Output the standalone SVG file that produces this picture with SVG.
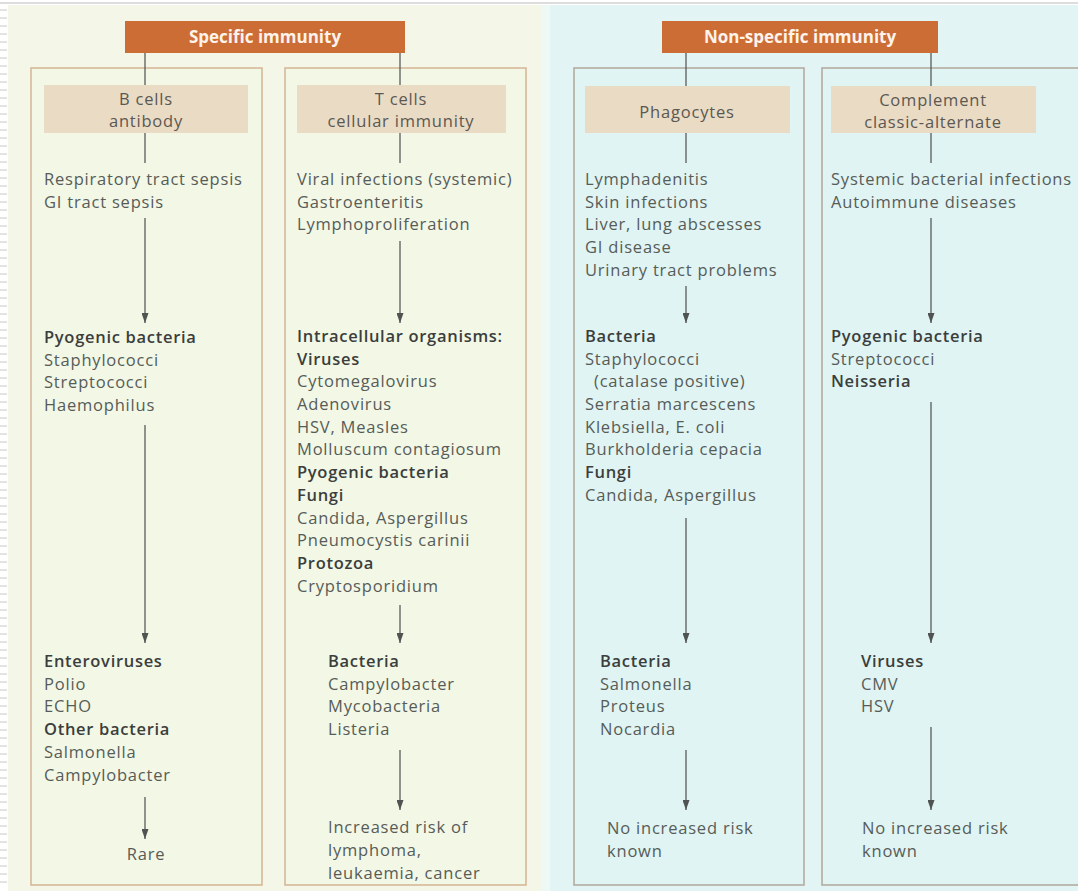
<svg xmlns="http://www.w3.org/2000/svg" width="1078" height="891" viewBox="0 0 1078 891">
<defs>
<style>
.t{font-family:"Open Sans","Noto Sans","Liberation Sans",sans-serif;font-size:16.5px;letter-spacing:0.8px;fill:#575c58}
.b{font-family:"Open Sans","Noto Sans","Liberation Sans",sans-serif;font-size:16.5px;letter-spacing:0.7px;font-weight:600;fill:#3b3e3c}
.hd{font-family:"Open Sans","Noto Sans","Liberation Sans",sans-serif;font-size:17px;font-weight:bold;fill:#fdf3ea}
.sh{font-family:"Open Sans","Noto Sans","Liberation Sans",sans-serif;font-size:16.5px;letter-spacing:0.8px;fill:#5a5852}
.hbox{fill:#cd6d36}
.sbox{fill:#eadbc5}
.lbox{fill:#f2f7e6;stroke:#d6b898;stroke-width:1.6}
.rbox{fill:#e0f4f3;stroke:#b4aca0;stroke-width:1.6}
.ln{stroke:#585c5a;stroke-width:1.3;fill:none}
.ar{stroke:#585c5a;stroke-width:1.3;fill:none;marker-end:url(#ah)}
</style>
<marker id="ah" viewBox="0 0 10 7" refX="10" refY="3.5" markerWidth="10" markerHeight="7" markerUnits="userSpaceOnUse" orient="auto">
<path d="M0,0 L10,3.5 L0,7 z" fill="#4f5351"/>
</marker>
</defs>

<!-- backgrounds -->
<rect x="0" y="0" width="1078" height="891" fill="#ffffff"/>
<rect x="8" y="5" width="534" height="886" fill="#f4f7e7"/>
<rect x="542" y="5" width="8" height="886" fill="#eef8f5"/>
<rect x="550" y="5" width="528" height="886" fill="#e2f4f3"/>
<line x1="0" y1="3" x2="1078" y2="3" stroke="#d2d2d2" stroke-width="1.5"/>
<g stroke="#c8c8c8" stroke-width="1">
<path d="M0,10h7M0,18h7M0,26h7M0,34h7M0,42h7M0,50h7M0,58h7M0,66h7M0,74h7M0,82h7M0,90h7M0,98h7M0,106h7M0,114h7M0,122h7M0,130h7M0,138h7M0,146h7M0,154h7M0,162h7M0,170h7M0,178h7M0,186h7M0,194h7M0,202h7M0,210h7M0,218h7M0,226h7M0,234h7M0,242h7M0,250h7M0,258h7M0,266h7M0,274h7M0,282h7M0,290h7M0,298h7M0,306h7M0,314h7M0,322h7M0,330h7M0,338h7M0,346h7M0,354h7M0,362h7M0,370h7M0,378h7M0,386h7M0,394h7M0,402h7M0,410h7M0,418h7M0,426h7M0,434h7M0,442h7M0,450h7M0,458h7M0,466h7M0,474h7M0,482h7M0,490h7M0,498h7M0,506h7M0,514h7M0,522h7M0,530h7M0,538h7M0,546h7M0,554h7M0,562h7M0,570h7M0,578h7M0,586h7M0,594h7M0,602h7M0,610h7M0,618h7M0,626h7M0,634h7M0,642h7M0,650h7M0,658h7M0,666h7M0,674h7M0,682h7M0,690h7M0,698h7M0,706h7M0,714h7M0,722h7M0,730h7M0,738h7M0,746h7M0,754h7M0,762h7M0,770h7M0,778h7M0,786h7M0,794h7M0,802h7M0,810h7M0,818h7M0,826h7M0,834h7M0,842h7M0,850h7M0,858h7M0,866h7M0,874h7M0,882h7"/>
</g>

<!-- column boxes -->
<g id="box-b"><rect class="lbox" x="31" y="68" width="231" height="817"/></g>
<g id="box-t"><rect class="lbox" x="285" y="68" width="241" height="817"/></g>
<g id="box-p"><rect class="rbox" x="574" y="68" width="230" height="817"/></g>
<g id="box-c"><rect class="rbox" x="822" y="68" width="262" height="817"/></g>

<!-- connectors -->
<g id="connectors">
<line class="ln" x1="145" y1="53" x2="145" y2="85"/>
<line class="ln" x1="400" y1="53" x2="400" y2="85"/>
<line class="ln" x1="686" y1="53" x2="686" y2="86"/>
<line class="ln" x1="931" y1="53" x2="931" y2="86"/>
<line class="ln" x1="145" y1="133" x2="145" y2="163"/>
<line class="ln" x1="400" y1="133" x2="400" y2="163"/>
<line class="ln" x1="686" y1="133" x2="686" y2="163"/>
<line class="ln" x1="931" y1="133" x2="931" y2="163"/>
<line class="ar" x1="145" y1="218" x2="145" y2="323"/>
<line class="ar" x1="145" y1="425" x2="145" y2="643"/>
<line class="ar" x1="145" y1="797" x2="145" y2="839"/>
<line class="ar" x1="400" y1="241" x2="400" y2="323"/>
<line class="ar" x1="400" y1="605" x2="400" y2="643"/>
<line class="ar" x1="400" y1="750" x2="400" y2="810"/>
<line class="ar" x1="686" y1="286" x2="686" y2="323"/>
<line class="ar" x1="686" y1="518" x2="686" y2="643"/>
<line class="ar" x1="686" y1="750" x2="686" y2="810"/>
<line class="ar" x1="931" y1="218" x2="931" y2="323"/>
<line class="ar" x1="931" y1="402" x2="931" y2="643"/>
<line class="ar" x1="931" y1="727" x2="931" y2="810"/>
</g>

<!-- headers -->
<g id="hdr-specific">
<rect class="hbox" x="125" y="21" width="280" height="32"/>
<text class="hd" x="265" y="43" text-anchor="middle">Specific immunity</text>
</g>
<g id="hdr-nonspecific">
<rect class="hbox" x="662" y="21" width="276" height="32"/>
<text class="hd" x="800" y="43" text-anchor="middle">Non-specific immunity</text>
</g>

<!-- sub headers -->
<g id="sub-b">
<rect class="sbox" x="44" y="85" width="204" height="48"/>
<text class="sh" x="146" y="105" text-anchor="middle">B cells</text>
<text class="sh" x="146" y="127" text-anchor="middle">antibody</text>
</g>
<g id="sub-t">
<rect class="sbox" x="297" y="85" width="209" height="48"/>
<text class="sh" x="401" y="105" text-anchor="middle">T cells</text>
<text class="sh" x="401" y="127" text-anchor="middle">cellular immunity</text>
</g>
<g id="sub-p">
<rect class="sbox" x="585" y="86" width="205" height="47"/>
<text class="sh" x="687" y="118" text-anchor="middle">Phagocytes</text>
</g>
<g id="sub-c">
<rect class="sbox" x="831" y="86" width="205" height="47"/>
<text class="sh" x="933" y="106" text-anchor="middle">Complement</text>
<text class="sh" x="933" y="128" text-anchor="middle">classic-alternate</text>
</g>

<!-- B cells column -->
<g id="b-sites">
<text class="t" x="44" y="185">Respiratory tract sepsis</text>
<text class="t" x="44" y="208">GI tract sepsis</text>
</g>
<g id="b-organisms">
<text class="b" x="44" y="343">Pyogenic bacteria</text>
<text class="t" x="44" y="366">Staphylococci</text>
<text class="t" x="44" y="388">Streptococci</text>
<text class="t" x="44" y="411">Haemophilus</text>
</g>
<g id="b-other">
<text class="b" x="44" y="667">Enteroviruses</text>
<text class="t" x="44" y="690">Polio</text>
<text class="t" x="44" y="712">ECHO</text>
<text class="b" x="44" y="735">Other bacteria</text>
<text class="t" x="44" y="758">Salmonella</text>
<text class="t" x="44" y="781">Campylobacter</text>
</g>
<g id="b-risk">
<text class="t" x="146" y="860" text-anchor="middle">Rare</text>
</g>

<!-- T cells column -->
<g id="t-sites">
<text class="t" x="297" y="185">Viral infections (systemic)</text>
<text class="t" x="297" y="208">Gastroenteritis</text>
<text class="t" x="297" y="230">Lymphoproliferation</text>
</g>
<g id="t-organisms">
<text class="b" x="297" y="342">Intracellular organisms:</text>
<text class="b" x="297" y="365">Viruses</text>
<text class="t" x="297" y="387">Cytomegalovirus</text>
<text class="t" x="297" y="410">Adenovirus</text>
<text class="t" x="297" y="433">HSV, Measles</text>
<text class="t" x="297" y="455">Molluscum contagiosum</text>
<text class="b" x="297" y="478">Pyogenic bacteria</text>
<text class="b" x="297" y="501">Fungi</text>
<text class="t" x="297" y="524">Candida, Aspergillus</text>
<text class="t" x="297" y="546">Pneumocystis carinii</text>
<text class="b" x="297" y="569">Protozoa</text>
<text class="t" x="297" y="592">Cryptosporidium</text>
</g>
<g id="t-other">
<text class="b" x="328" y="667">Bacteria</text>
<text class="t" x="328" y="690">Campylobacter</text>
<text class="t" x="328" y="712">Mycobacteria</text>
<text class="t" x="328" y="735">Listeria</text>
</g>
<g id="t-risk">
<text class="t" x="328" y="833">Increased risk of</text>
<text class="t" x="328" y="856">lymphoma,</text>
<text class="t" x="328" y="879">leukaemia, cancer</text>
</g>

<!-- Phagocytes column -->
<g id="p-sites">
<text class="t" x="585" y="185">Lymphadenitis</text>
<text class="t" x="585" y="208">Skin infections</text>
<text class="t" x="585" y="230">Liver, lung abscesses</text>
<text class="t" x="585" y="253">GI disease</text>
<text class="t" x="585" y="276">Urinary tract problems</text>
</g>
<g id="p-organisms">
<text class="b" x="585" y="342">Bacteria</text>
<text class="t" x="585" y="365">Staphylococci</text>
<text class="t" x="594" y="387">(catalase positive)</text>
<text class="t" x="585" y="410">Serratia marcescens</text>
<text class="t" x="585" y="433">Klebsiella, E. coli</text>
<text class="t" x="585" y="455">Burkholderia cepacia</text>
<text class="b" x="585" y="478">Fungi</text>
<text class="t" x="585" y="501">Candida, Aspergillus</text>
</g>
<g id="p-other">
<text class="b" x="600" y="667">Bacteria</text>
<text class="t" x="600" y="690">Salmonella</text>
<text class="t" x="600" y="712">Proteus</text>
<text class="t" x="600" y="735">Nocardia</text>
</g>
<g id="p-risk">
<text class="t" x="607" y="834">No increased risk</text>
<text class="t" x="607" y="857">known</text>
</g>

<!-- Complement column -->
<g id="c-sites">
<text class="t" x="831" y="185">Systemic bacterial infections</text>
<text class="t" x="831" y="208">Autoimmune diseases</text>
</g>
<g id="c-organisms">
<text class="b" x="831" y="342">Pyogenic bacteria</text>
<text class="t" x="831" y="365">Streptococci</text>
<text class="b" x="831" y="387">Neisseria</text>
</g>
<g id="c-other">
<text class="b" x="861" y="667">Viruses</text>
<text class="t" x="861" y="690">CMV</text>
<text class="t" x="861" y="712">HSV</text>
</g>
<g id="c-risk">
<text class="t" x="862" y="834">No increased risk</text>
<text class="t" x="862" y="857">known</text>
</g>
</svg>
